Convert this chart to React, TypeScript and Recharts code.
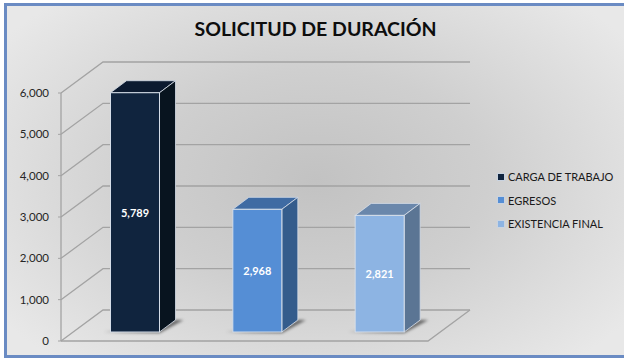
import { BarChart, Bar, XAxis, YAxis, CartesianGrid, Legend, LabelList } from "recharts";

const categories = ["CARGA DE TRABAJO", "EGRESOS", "EXISTENCIA FINAL"];
const values = [5789, 2968, 2821];
const yTicks = [0, 1000, 2000, 3000, 4000, 5000, 6000];

const frontColors = ["#10243e", "#558ed5", "#8db4e3"];
const topColors = ["#0b1a30", "#3f6ba3", "#6a87ab"];
const sideColors = ["#08141f", "#345c8c", "#5b7594"];

// one row per category, only that category's series has a value
const data = categories.map((name, i) => ({ name, [name]: values[i] }));

// 3D offsets: wall depth, bar depth, and where the bar sits on the floor
const WALL_DX = 42;
const WALL_DY = 31;
const BAR_DX = 16;
const BAR_DY = 12;
const FLOOR_DX = 12.5;
const FLOOR_DY = 9;

const font = "Lato, 'Open Sans', sans-serif";

const GridLine = (props: any) => {
  const { x1, x2, y1 } = props;
  const isFloor = y1 > 335;
  return (
    <g fill="none" stroke="#a3a3a3" strokeWidth={1.3}>
      <polyline
        points={`${x1},${y1} ${x1 + WALL_DX},${y1 - WALL_DY} ${x2 + WALL_DX},${y1 - WALL_DY}`}
      />
      {isFloor && (
        <polyline points={`${x1},${y1} ${x2},${y1} ${x2 + WALL_DX},${y1 - WALL_DY}`} />
      )}
    </g>
  );
};

const Bar3D = (props: any) => {
  const { x, y, width, height, index } = props;
  if (!height) return null;
  const left = x + FLOOR_DX;
  const right = left + width;
  const top = y - FLOOR_DY;
  const bottom = top + height;
  return (
    <g>
      <polygon
        points={`${left - 7},${bottom} ${right},${bottom + 1} ${right + BAR_DX + 8},${bottom - BAR_DY} ${right + BAR_DX},${bottom - BAR_DY} ${right},${bottom - 3}`}
        fill="#000"
        fillOpacity={0.55}
        filter="url(#barShadow)"
      />
      <polygon
        points={`${left},${top} ${left + BAR_DX},${top - BAR_DY} ${right + BAR_DX},${top - BAR_DY} ${right},${top}`}
        fill={topColors[index]}
        stroke="#d5dde8"
        strokeWidth={0.8}
      />
      <polygon
        points={`${right},${top} ${right + BAR_DX},${top - BAR_DY} ${right + BAR_DX},${bottom - BAR_DY} ${right},${bottom}`}
        fill={sideColors[index]}
        stroke="#d5dde8"
        strokeWidth={0.8}
      />
      <rect
        x={left}
        y={top}
        width={width}
        height={height}
        fill={frontColors[index]}
        stroke="#d5dde8"
        strokeWidth={1}
      />
    </g>
  );
};

const BarValue = (props: any) => {
  const { x, y, width, height, value } = props;
  if (!value) return null;
  return (
    <text
      x={x + FLOOR_DX + width / 2}
      y={y - FLOOR_DY + height / 2}
      textAnchor="middle"
      dominantBaseline="central"
      fill="#fff"
      fontFamily={font}
      fontSize={11}
      fontWeight={700}
    >
      {Number(value).toLocaleString("en-US")}
    </text>
  );
};

const LegendList = () => (
  <div style={{ fontFamily: font, fontSize: 11, color: "#1a1a1a", whiteSpace: "nowrap" }}>
    {categories.map((name, i) => (
      <div key={name} style={{ display: "flex", alignItems: "center", height: 23.5 }}>
        <span
          style={{
            width: 6,
            height: 6,
            flexShrink: 0,
            marginRight: 3,
            background: frontColors[i],
            border: "1px solid #c9d3e0",
            boxSizing: "content-box",
          }}
        />
        {name}
      </div>
    ))}
  </div>
);

export default function App() {
  return (
    <div
      style={{
        position: "fixed",
        left: 0,
        top: 0,
        width: 624,
        height: 358,
        overflow: "hidden",
        background: "#fff",
      }}
    >
      {/* Frame and gradient panel */}
      <div
        style={{
          position: "absolute",
          left: 4,
          top: 3,
          width: 620,
          height: 355,
          boxSizing: "border-box",
          borderLeft: "3px solid #6a8bc3",
          borderTop: "3px solid #6a8bc3",
          borderBottom: "3px solid #6a8bc3",
          background:
            "radial-gradient(ellipse 62% 70% at 50% 50%, #c2c2c2 0%, #cfcfcf 45%, #e8e8e8 100%)",
        }}
      />
      <div
        style={{
          position: "absolute",
          left: 0,
          top: 17,
          width: 631,
          textAlign: "center",
          fontFamily: font,
          fontSize: 19.5,
          fontWeight: 700,
          color: "#0d0d0d",
        }}
      >
        SOLICITUD DE DURACIÓN
      </div>
      <BarChart
        width={624}
        height={358}
        data={data}
        margin={{ top: 93, right: 69, bottom: 17, left: 0 }}
        style={{ position: "absolute", left: 0, top: 0 }}
      >
        <defs>
          <filter id="barShadow" x="-30%" y="-100%" width="160%" height="300%">
            <feGaussianBlur stdDeviation="1.5" />
          </filter>
        </defs>
        <CartesianGrid vertical={false} horizontal={GridLine} />
        <XAxis dataKey="name" hide />
        <YAxis
          width={61}
          domain={[0, 6000]}
          ticks={yTicks}
          interval={0}
          tickFormatter={(v: number) => v.toLocaleString("en-US")}
          tick={{ fontFamily: font, fontSize: 11.5, fill: "#262626" }}
          tickSize={3}
          tickMargin={9}
          axisLine={{ stroke: "#a3a3a3", strokeWidth: 1.3 }}
          tickLine={{ stroke: "#a3a3a3" }}
        />
        {/* takes 127px on the right, same as the legend column in the picture */}
        <Legend
          layout="vertical"
          align="right"
          verticalAlign="top"
          content={<LegendList />}
          wrapperStyle={{ left: 497, top: 165, width: 127 }}
        />
        {categories.map((name) => (
          <Bar
            key={name}
            dataKey={name}
            stackId="a"
            barSize={49}
            shape={Bar3D}
            isAnimationActive={false}
          >
            <LabelList dataKey={name} content={BarValue} />
          </Bar>
        ))}
      </BarChart>
    </div>
  );
}
